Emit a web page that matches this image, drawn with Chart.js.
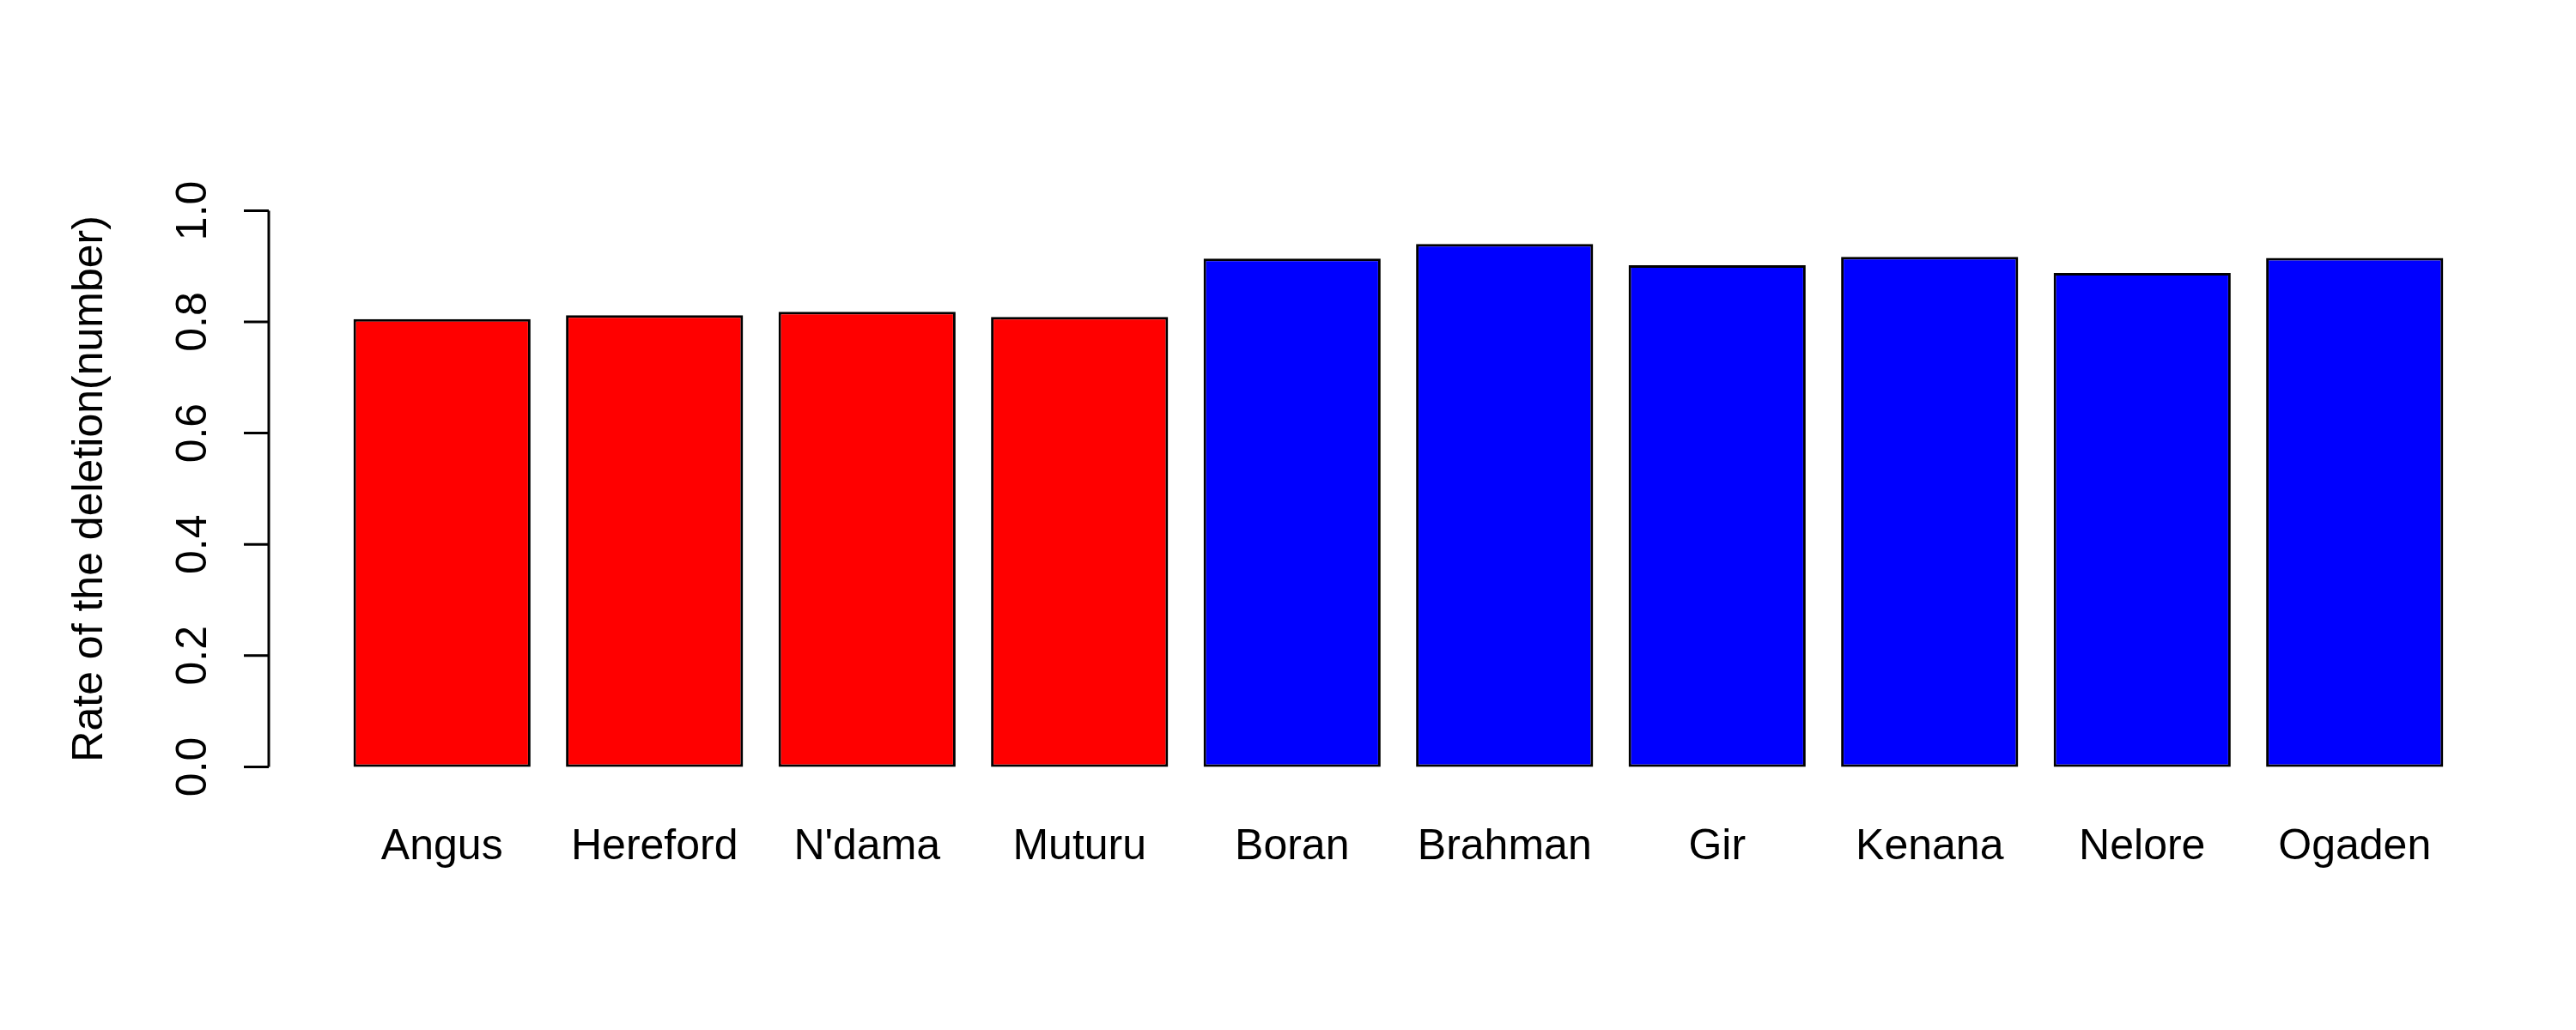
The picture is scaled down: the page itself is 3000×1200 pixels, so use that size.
<!DOCTYPE html>
<html>
<head>
<meta charset="utf-8">
<script src="https://cdn.jsdelivr.net/npm/chart.js@4"></script>
<style>
html,body{margin:0;padding:0;background:#fff;}
#wrap{width:3000px;height:1200px;position:relative;}
</style>
</head>
<body>
<div id="wrap"><canvas id="c" width="3000" height="1200"></canvas></div>
<script>
const categories = ["Angus","Hereford","N'dama","Muturu","Boran","Brahman","Gir","Kenana","Nelore","Ogaden"];
const values = [0.805,0.812,0.818,0.809,0.914,0.940,0.902,0.917,0.888,0.915];
const barColors = ["#ff0000","#ff0000","#ff0000","#ff0000","#0000ff","#0000ff","#0000ff","#0000ff","#0000ff","#0000ff"];
const yTicks = [0,0.2,0.4,0.6,0.8,1.0];
const yTickLabels = ["0.0","0.2","0.4","0.6","0.8","1.0"];
const yTitle = "Rate of the deletion(number)";

const FONT = '50px "Liberation Sans", Arial, sans-serif';

const rAxes = {
  id: 'rAxes',
  afterDraw(chart) {
    const ctx = chart.ctx;
    const ys = chart.scales.y, xs = chart.scales.x;
    const axisX = 313;
    ctx.save();
    ctx.strokeStyle = '#000';
    ctx.lineWidth = 3;
    ctx.beginPath();
    ctx.moveTo(axisX, ys.getPixelForValue(yTicks[0]));
    ctx.lineTo(axisX, ys.getPixelForValue(yTicks[yTicks.length-1]));
    yTicks.forEach(v => {
      const py = ys.getPixelForValue(v);
      ctx.moveTo(axisX, py);
      ctx.lineTo(axisX - 29, py);
    });
    ctx.stroke();
    ctx.fillStyle = '#000';
    ctx.font = FONT;
    ctx.textAlign = 'center';
    ctx.textBaseline = 'middle';
    yTicks.forEach((v, i) => {
      const py = ys.getPixelForValue(v);
      ctx.save();
      ctx.translate(226, py);
      ctx.rotate(-Math.PI/2);
      ctx.fillText(yTickLabels[i], 0, 0);
      ctx.restore();
    });
    // y title
    ctx.save();
    ctx.translate(105, (chart.chartArea.top + chart.chartArea.bottom)/2);
    ctx.rotate(-Math.PI/2);
    ctx.fillText(yTitle, 0, 0);
    ctx.restore();
    // x labels
    ctx.textBaseline = 'alphabetic';
    categories.forEach((c, i) => {
      ctx.fillText(c, xs.getPixelForValue(i), 1001);
    });
    ctx.restore();
  }
};

new Chart(document.getElementById('c'), {
  type: 'bar',
  data: {
    labels: categories,
    datasets: [{
      data: values,
      backgroundColor: barColors,
      borderColor: '#000',
      borderWidth: 3,
      borderSkipped: false,
      categoryPercentage: 1.0,
      barPercentage: 1/1.2
    }]
  },
  options: {
    responsive: false,
    devicePixelRatio: 1,
    animation: false,
    layout: { padding: { left: 391, right: 134, top: 219.5, bottom: 280.7 } },
    plugins: { legend: { display: false }, tooltip: { enabled: false } },
    scales: {
      x: { display: false, offset: true },
      y: { display: false, min: -0.04, max: 1.04 }
    }
  },
  plugins: [rAxes]
});
</script>
</body>
</html>
